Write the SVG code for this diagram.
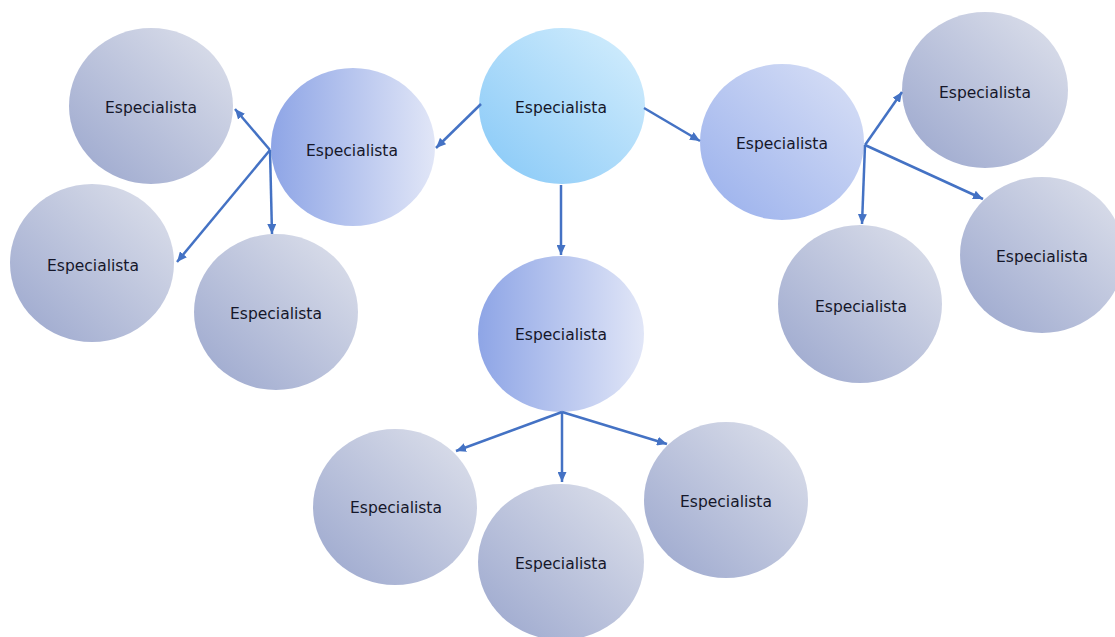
<svg xmlns="http://www.w3.org/2000/svg" width="1115" height="637" viewBox="0 0 1115 637">
<style>
  .lbl { font-family: "DejaVu Sans", Tahoma, sans-serif; font-size: 15.5px; fill: #15172a; text-anchor: middle; }
  .leaf { fill: url(#gLeaf); }
  .conn { stroke: #4472c4; stroke-width: 2.5; fill: none; marker-end: url(#arr); }
</style>
<defs>
  <linearGradient id="gLeaf" x1="1" y1="0" x2="0" y2="1">
    <stop offset="0" stop-color="#dfe2ec"/>
    <stop offset="1" stop-color="#9aa6cd"/>
  </linearGradient>
  <linearGradient id="gTop" x1="1" y1="0" x2="0" y2="1">
    <stop offset="0" stop-color="#d6effd"/>
    <stop offset="1" stop-color="#86c8f7"/>
  </linearGradient>
  <linearGradient id="gMidH" x1="0" y1="0" x2="1" y2="0">
    <stop offset="0" stop-color="#8ea5e6"/>
    <stop offset="1" stop-color="#e1e6f7"/>
  </linearGradient>
  <linearGradient id="gMidD" x1="1" y1="0" x2="0" y2="1">
    <stop offset="0" stop-color="#dae1f6"/>
    <stop offset="1" stop-color="#98afec"/>
  </linearGradient>
  <marker id="arr" markerUnits="userSpaceOnUse" markerWidth="11" markerHeight="9" refX="10" refY="4.5" orient="auto">
    <path d="M0,0 L10,4.5 L0,9 z" fill="#4472c4"/>
  </marker>
</defs>
<rect width="1115" height="637" fill="#ffffff"/>

<g id="n-top"><ellipse cx="562" cy="106" rx="83" ry="78" fill="url(#gTop)"/><text class="lbl" x="561" y="113">Especialista</text></g>
<g id="n-left"><ellipse cx="353" cy="147" rx="82" ry="79" fill="url(#gMidH)"/><text class="lbl" x="352" y="156">Especialista</text></g>
<g id="n-right"><ellipse cx="782" cy="142" rx="82" ry="78" fill="url(#gMidD)"/><text class="lbl" x="782" y="149">Especialista</text></g>
<g id="n-bottom"><ellipse cx="561" cy="334" rx="83" ry="78" fill="url(#gMidH)"/><text class="lbl" x="561" y="340">Especialista</text></g>

<g id="l1"><ellipse class="leaf" cx="151" cy="106" rx="82" ry="78"/><text class="lbl" x="151" y="113">Especialista</text></g>
<g id="l2"><ellipse class="leaf" cx="92" cy="263" rx="82" ry="79"/><text class="lbl" x="93" y="271">Especialista</text></g>
<g id="l3"><ellipse class="leaf" cx="276" cy="312" rx="82" ry="78"/><text class="lbl" x="276" y="319">Especialista</text></g>
<g id="r1"><ellipse class="leaf" cx="985" cy="90" rx="83" ry="78"/><text class="lbl" x="985" y="98">Especialista</text></g>
<g id="r2"><ellipse class="leaf" cx="1042" cy="255" rx="82" ry="78"/><text class="lbl" x="1042" y="262">Especialista</text></g>
<g id="r3"><ellipse class="leaf" cx="860" cy="304" rx="82" ry="79"/><text class="lbl" x="861" y="312">Especialista</text></g>
<g id="b1"><ellipse class="leaf" cx="395" cy="507" rx="82" ry="78"/><text class="lbl" x="396" y="513">Especialista</text></g>
<g id="b2"><ellipse class="leaf" cx="561" cy="562" rx="83" ry="78"/><text class="lbl" x="561" y="569">Especialista</text></g>
<g id="b3"><ellipse class="leaf" cx="726" cy="500" rx="82" ry="78"/><text class="lbl" x="726" y="507">Especialista</text></g>

<g id="connectors">
  <line class="conn" x1="481" y1="104" x2="436" y2="148"/>
  <line class="conn" x1="644" y1="108" x2="700" y2="141"/>
  <line class="conn" x1="561" y1="185" x2="561" y2="255"/>
  <line class="conn" x1="270" y1="150" x2="235" y2="109"/>
  <line class="conn" x1="270" y1="150" x2="177" y2="262"/>
  <line class="conn" x1="270" y1="150" x2="272" y2="234"/>
  <line class="conn" x1="865" y1="145" x2="902" y2="92"/>
  <line class="conn" x1="865" y1="145" x2="862" y2="224"/>
  <line class="conn" x1="865" y1="145" x2="983" y2="199"/>
  <line class="conn" x1="562" y1="412" x2="456" y2="451"/>
  <line class="conn" x1="562" y1="412" x2="562" y2="482"/>
  <line class="conn" x1="562" y1="412" x2="667" y2="444"/>
</g>
</svg>
